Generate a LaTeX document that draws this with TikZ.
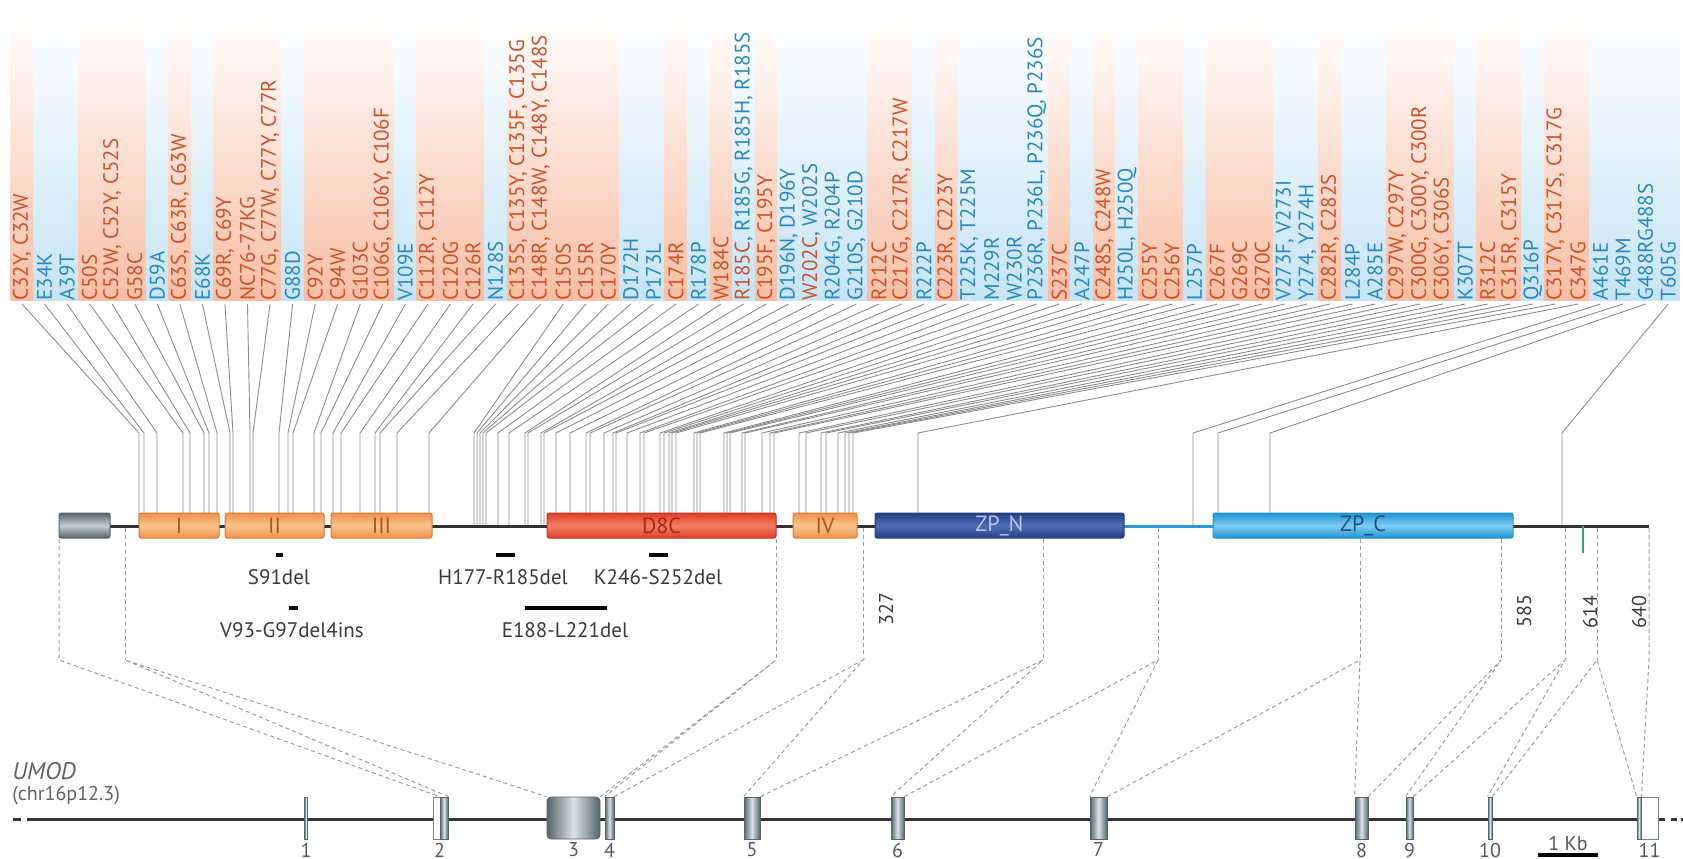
\documentclass[tikz,border=0pt]{standalone}
\usepackage{fontspec}
\setmainfont{PT Sans}
\usetikzlibrary{positioning,calc}
\definecolor{mutRedText}{HTML}{C8532E}
\definecolor{mutRedBg}{HTML}{F7BEA3}
\definecolor{mutBlueText}{HTML}{2C88BA}
\definecolor{mutBlueBg}{HTML}{C6E4F5}
\definecolor{umodGreyLine}{HTML}{8C8C8C}
\definecolor{umodDash}{HTML}{9C9C9C}
\definecolor{umodBlack}{HTML}{333333}
\definecolor{umodText}{HTML}{3A3A3A}
\definecolor{sigDark}{HTML}{56656B}
\definecolor{sigLight}{HTML}{C4CED2}
\definecolor{egfLine}{HTML}{E07A30}
\definecolor{egfDark}{HTML}{EE9148}
\definecolor{egfLight}{HTML}{F9C48E}
\definecolor{egfText}{HTML}{A9521C}
\definecolor{dcLine}{HTML}{C8321E}
\definecolor{dcDark}{HTML}{DF3F2A}
\definecolor{dcLight}{HTML}{F47E62}
\definecolor{dcText}{HTML}{A5281A}
\definecolor{zpnDark}{HTML}{233F86}
\definecolor{zpnLight}{HTML}{4F6FB4}
\definecolor{zpnText}{HTML}{B8C2EA}
\definecolor{zpcDark}{HTML}{1E93D2}
\definecolor{zpcLight}{HTML}{7FCDF2}
\definecolor{zpcText}{HTML}{1F4F86}
\definecolor{linkBlue}{HTML}{2A9BD8}
\definecolor{gpiGreen}{HTML}{2FB061}
\definecolor{exonDark}{HTML}{56656B}
\definecolor{exonLight}{HTML}{DCE3E6}
\tikzset{
  mut label/.style={rotate=90, anchor=west, inner sep=0pt,
    font=\fontsize{10.5}{10.5}\selectfont},
  mut line/.style={draw=umodGreyLine, line width=0.45pt},
  domain box/.style={
    rectangle, rounded corners=1pt,
    inner sep=0pt, minimum height=12.5pt,
    line width=0.5pt, font=\fontsize{11}{11}\selectfont,
  },
  egf/.style={draw=egfLine, top color=egfDark, bottom color=egfDark,
    middle color=egfLight, text=egfText},
  prot line/.style={draw=umodBlack, line width=1.5pt},
  del bar/.style={draw=black, line width=2pt},
  del text/.style={font=\fontsize{10.5}{10.5}\selectfont, text=umodText, inner sep=0pt},
  pos text/.style={rotate=90, font=\fontsize{10}{10}\selectfont, text=umodText, inner sep=0pt},
  map line/.style={draw=umodDash, line width=0.5pt, dash pattern=on 2pt off 1.6pt},
  exon/.style={rectangle, inner sep=0pt, minimum height=21pt,
    draw=exonDark, line width=0.4pt,
    left color=exonDark, right color=exonDark, middle color=exonLight},
  utr/.style={rectangle, inner sep=0pt, minimum height=21pt,
    draw=exonDark!80, line width=0.5pt, fill=white},
  exon num/.style={font=\fontsize{10}{10}\selectfont, text=umodText!85, inner sep=0pt},
  gene line/.style={draw=umodBlack, line width=1.5pt},
}

\begin{document}
\begin{tikzpicture}[x=0.5pt, y=-0.5pt]
\useasboundingbox (0,0) rectangle (1683,858);

%% mutation labels ===================================================
% text / colour / landing point on the protein
\coordinate (bend) at (0,433);
\foreach \txt/\tc/\land [count=\i from 0] in {
  {C32Y, C32W}/Red/139, E34K/Blue/144, A39T/Blue/157, C50S/Red/183,
  {C52W, C52Y, C52S}/Red/190, G58C/Red/204, D59A/Blue/209,
  {C63S, C63R, C63W}/Red/217, E68K/Blue/230, {C69R, C69Y}/Red/233,
  NC76-77KG/Red/250, {C77G, C77W, C77Y, C77R}/Red/253,
  G88D/Blue/279, C92Y/Red/288, C94W/Red/293, G103C/Red/314,
  {C106G, C106Y, C106F}/Red/321, V109E/Blue/333, {C112R, C112Y}/Red/341,
  C120G/Red/360, C126R/Red/375, N128S/Blue/380,
  {C135S, C135Y, C135F, C135G}/Red/397, {C148R, C148W, C148Y, C148S}/Red/429,
  C150S/Red/474, C155R/Red/477, C170Y/Red/480, D172H/Blue/483, P173L/Blue/486,
  C174R/Red/498, R178P/Blue/509, W184C/Red/525,
  {\textcolor{mutRedText}{R185C}, R185G, R185H, R185S}/Blue/528,
  {C195F, C195Y}/Red/541, {D196N, D196Y}/Blue/544,
  {\textcolor{mutRedText}{W202C}, W202S}/Blue/556,
  {R204G, R204P}/Blue/570, {G210S, G210D}/Blue/586, R212C/Red/590,
  {C217G, C217R, C217W}/Red/604, R222P/Blue/613, {C223R, C223Y}/Red/616,
  {T225K, T225M}/Blue/627, M229R/Blue/640, W230R/Blue/644,
  {P236R, P236L, P236Q, P236S}/Blue/660, S237C/Red/664, A247P/Blue/669,
  {C248S, C248W}/Red/672, {H250L, H250Q}/Blue/676, C255Y/Red/694,
  C256Y/Red/697, L257P/Blue/700, C267F/Red/724, G269C/Red/727, G270C/Red/730,
  {V273F, V273I}/Blue/742, {Y274, Y274H}/Blue/745, {C282R, C282S}/Red/762,
  L284P/Blue/770, A285E/Blue/774, {C297W, C297Y}/Red/799,
  {C300G, C300Y, C300R}/Red/806, {C306Y, C306S}/Red/821, K307T/Blue/826,
  R312C/Red/838, {C315R, C315Y}/Red/845, Q316P/Blue/849,
  {C317Y, C317S, C317G}/Red/853, C347G/Red/918, A461E/Blue/1193,
  T469M/Blue/1218, G488RG488S/Blue/1270, T605G/Blue/1562}{
  \pgfmathsetmacro\lx{22+22.55*\i}
  \shade[top color=white, bottom color=mut\tc Bg]
    (\lx-11.3,17) rectangle (\lx+11.3,300);
  \node[mut label, text=mut\tc Text] (mut\i) at (\lx,301) {\txt};
  \coordinate (hit\i) at (\land,526);
  \draw[mut line] ([yshift=-1.5pt]mut\i.west) -- (hit\i |- bend) -- (hit\i);
}

%% protein ===========================================================
\coordinate (nterm) at (110,526);
\coordinate (zpnL) at (875,526);
\coordinate (zpnR) at (1124,526);
\coordinate (zpcL) at (1213,526);
\coordinate (zpcR) at (1513,526);
\coordinate (cterm) at (1649,526);
\draw[prot line] (nterm) -- (zpnL);
\draw[prot line, draw=linkBlue] (zpnR) -- (zpcL);
\draw[prot line] (zpcR) -- (cterm);
\coordinate (gpi) at (1583,526);
\draw[draw=gpiGreen, line width=1.4pt] (gpi) -- ++(0,27);

\node[domain box, draw=sigDark, top color=sigDark, bottom color=sigDark,
  middle color=sigLight, minimum width=25.5pt] (sig) at (84.5,525.5) {};
\node[domain box, egf, minimum width=40pt] (egfI) at (179,525.5) {I};
\node[domain box, egf, minimum width=49.5pt] (egfII) at (274.5,525.5) {II};
\node[domain box, egf, minimum width=50.5pt] (egfIII) at (381.5,525.5) {III};
\node[domain box, draw=dcLine, top color=dcDark, bottom color=dcDark,
  middle color=dcLight, text=dcText, minimum width=114.5pt] (d8c) at (661.5,525.5) {D8C};
\node[domain box, egf, minimum width=32pt] (egfIV) at (825,525.5) {IV};
\node[domain box, draw=zpnDark, top color=zpnDark, bottom color=zpnDark,
  middle color=zpnLight, text=zpnText, minimum width=124.5pt] (zpn) at (999.5,525.5) {ZP\_N};
\node[domain box, draw=zpcDark, top color=zpcDark, bottom color=zpcDark,
  middle color=zpcLight, text=zpcText, minimum width=150pt] (zpc) at (1363,525.5) {ZP\_C};

% deletions
\draw[del bar] (276,555) -- (283,555);
\node[del text] (s91) at (279,577) {S91del};
\draw[del bar] (289,608) -- (298,608);
\node[del text] (v93) at (292,630) {V93-G97del4ins};
\draw[del bar] (496,555) -- (515,555);
\node[del text] (h177) at (503,577) {H177-R185del};
\draw[del bar] (525,608) -- (607,608);
\node[del text] (e188) at (565,630) {E188-L221del};
\draw[del bar] (649,555) -- (668,555);
\node[del text] (k246) at (658,577) {K246-S252del};

% residue numbers
\node[pos text] (r327) at (886,609) {327};
\node[pos text] (r585) at (1524,611) {585};
\node[pos text] (r614) at (1590,612) {614};
\node[pos text] (r640) at (1639,612) {640};

%% gene ==============================================================
\coordinate (genel) at (27,819);
\coordinate (gener) at (1665,819);
\draw[gene line] (genel) -- (gener);
\draw[gene line] (13,819) -- (21,819);
\draw[gene line] (1671,819) -- (1677,819);
\draw[gene line] (1681,819) -- (1683,819);

\node[exon, minimum width=1.5pt] (ex1) at (306,818) {};
\node[utr, minimum width=3.5pt] (ex2u) at (436.5,818) {};
\node[exon, minimum width=4pt] (ex2) at (444,818) {};
\node[exon, minimum width=26.5pt, rounded corners=2pt] (ex3) at (573.5,818) {};
\node[exon, minimum width=4.5pt] (ex4) at (609.5,818) {};
\node[exon, minimum width=8pt] (ex5) at (752,818) {};
\node[exon, minimum width=6.5pt] (ex6) at (897.5,818) {};
\node[exon, minimum width=8.5pt] (ex7) at (1098.5,818) {};
\node[exon, minimum width=6.5pt] (ex8) at (1361.5,818) {};
\node[exon, minimum width=3.5pt] (ex9) at (1409.5,818) {};
\node[exon, minimum width=2pt] (ex10) at (1490,818) {};
\node[utr, minimum width=8.5pt] (ex11u) at (1649.5,818) {};
\node[exon, minimum width=2pt] (ex11) at (1639,818) {};

\node[exon num, below=1.5pt of ex1] {1};
\node[exon num, below=1.5pt of ex2.south west] {2};
\node[exon num, below=1.5pt of ex3] {3};
\node[exon num, below=1.5pt of ex4] {4};
\node[exon num, below=1.5pt of ex5] {5};
\node[exon num, below=1.5pt of ex6] {6};
\node[exon num, below=1.5pt of ex7] {7};
\node[exon num, below=1.5pt of ex8] {8};
\node[exon num, below=1.5pt of ex9] {9};
\node[exon num, below=1.5pt of ex10] {10};
\node[exon num, below=1.5pt of ex11u] {11};

\node[anchor=west, inner sep=0pt, text=umodText!80,
  font=\itshape\fontsize{12}{12}\selectfont] (umod) at (12,771) {UMOD};
\node[anchor=north west, inner sep=0pt, text=umodText!80,
  font=\fontsize{10}{10}\selectfont] (chr) at ([yshift=-3pt]umod.south west) {(chr16p12.3)};

% scale bar
\coordinate (kb) at (1538,855);
\draw[del bar] (kb) -- ++(60,0);
\node[exon num] (kbtext) at (1568,843) {1 Kb};

%% protein to exons ==================================================
\coordinate (elbow) at (0,660);
\coordinate (cut1) at (59,539);
\coordinate (cut2) at (125,528);
\coordinate (cut3) at (776,539);
\coordinate (cut4) at (863,528);
\coordinate (cut5) at (1043,539);
\coordinate (cut6) at (1158,528);
\coordinate (cut7) at (1360,539);
\coordinate (cut8) at (1501,539);
\coordinate (cut9) at (1565,528);
\coordinate (cut10) at (1597,528);
\coordinate (cut11) at (1649,528);
\draw[map line] (cut1) -- (cut1 |- elbow) -- (ex2.north west);
\foreach \c/\a/\b in {2/ex2/ex3, 3/ex3/ex4, 4/ex4/ex5, 5/ex5/ex6, 6/ex6/ex7,
  7/ex7/ex8, 8/ex8/ex9, 9/ex9/ex10, 10/ex10/ex11}{
  \draw[map line] (cut\c) -- (cut\c |- elbow);
  \draw[map line] (\a.north east) -- (cut\c |- elbow) -- (\b.north west);
}
\draw[map line] (cut11) -- (cut11 |- elbow) -- (ex11.north east);

\end{tikzpicture}
\end{document}
